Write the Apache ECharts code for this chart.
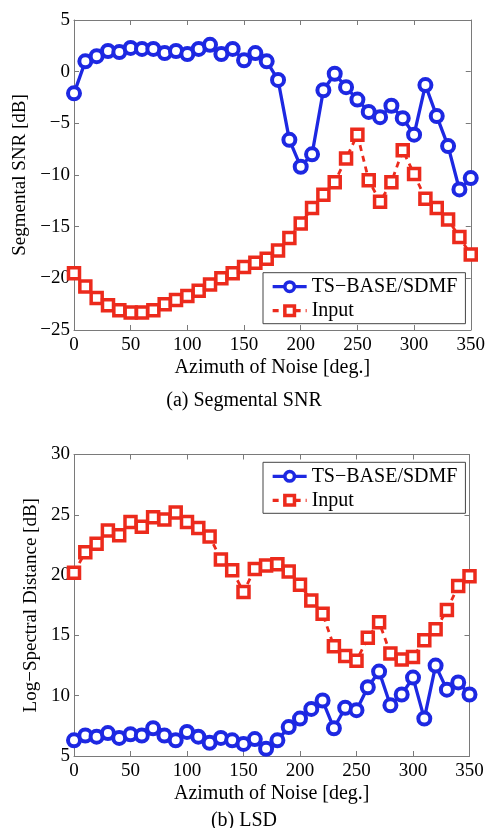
<!DOCTYPE html>
<html><head><meta charset="utf-8">
<script src="https://cdn.jsdelivr.net/npm/echarts@6/dist/echarts.min.js"></script>
<style>html,body{margin:0;padding:0;background:#fff}#c{width:488px;height:828px}</style>
</head><body><div id="c"></div>
<script>
const azimuth = [0,10,20,30,40,50,60,70,80,90,100,110,120,130,140,150,160,170,180,190,200,210,220,230,240,250,260,270,280,290,300,310,320,330,340,350];
const snrProposed = [-2.1,1.0,1.5,2.0,1.9,2.3,2.2,2.2,1.8,2.0,1.7,2.2,2.6,1.7,2.2,1.1,1.8,1.0,-0.8,-6.6,-9.2,-8.0,-1.8,-0.2,-1.5,-2.7,-3.9,-4.4,-3.3,-4.5,-6.1,-1.3,-4.3,-7.2,-11.4,-10.3];
const snrInput = [-19.5,-20.8,-21.9,-22.6,-23.1,-23.3,-23.3,-23.1,-22.5,-22.1,-21.7,-21.2,-20.6,-20.0,-19.5,-18.9,-18.5,-18.1,-17.3,-16.1,-14.7,-13.2,-11.9,-10.7,-8.4,-6.1,-10.5,-12.6,-10.7,-7.6,-9.9,-12.3,-13.2,-14.3,-16.0,-17.7];
const lsdProposed = [6.3,6.7,6.6,6.9,6.5,6.8,6.7,7.3,6.7,6.3,7.0,6.6,6.1,6.5,6.3,6.0,6.4,5.6,6.3,7.4,8.1,8.9,9.6,7.3,9.0,8.8,10.7,12.0,9.2,10.1,11.5,8.1,12.5,10.5,11.1,10.1];
const lsdInput = [20.2,21.9,22.6,23.7,23.3,24.4,24.0,24.8,24.6,25.2,24.4,23.9,23.2,21.3,20.4,18.6,20.5,20.8,20.9,20.3,19.2,17.9,16.8,14.1,13.3,12.9,14.8,16.1,13.5,13.0,13.2,14.6,15.5,17.1,19.1,19.9];
const xTicks = {min:0, max:350, interval:50};
const snrTicks = {min:-25, max:5, interval:5};
const lsdTicks = {min:5, max:30, interval:5};
const nameProposed = 'TS\u2212BASE/SDMF';
const nameInput = 'Input';

const FONT = 'Liberation Serif';
const BLUE = '#1d28e2';
const RED = '#ec2a1c';
const AX = '#7a7a7a';
const minus = v => String(v).replace('-', '\u2212');

function xAx(grid, pos, labels){
  return Object.assign({type:'value', gridIndex:grid, position:pos}, xTicks, {
    axisLine:{show:true, onZero:false, lineStyle:{color:AX, width:1}},
    axisTick:{show:true, inside:true, length:5, lineStyle:{color:AX}},
    splitLine:{show:false},
    axisLabel:{show:labels, color:'#000', fontFamily:FONT, fontSize:19, margin:6, formatter:minus},
    name: labels ? 'Azimuth of Noise [deg.]' : '',
    nameLocation:'middle', nameGap:28,
    nameTextStyle:{color:'#000', fontFamily:FONT, fontSize:20}
  });
}
function yAx(grid, pos, labels, ticks, name, gap){
  return Object.assign({type:'value', gridIndex:grid, position:pos}, ticks, {
    axisLine:{show:true, onZero:false, lineStyle:{color:AX, width:1}},
    axisTick:{show:true, inside:true, length:5, lineStyle:{color:AX}},
    splitLine:{show:false},
    axisLabel:{show:labels, color:'#000', fontFamily:FONT, fontSize:19, margin:4, formatter:minus},
    name: labels ? name : '',
    nameLocation:'middle', nameGap:gap, nameRotate:90,
    nameTextStyle:{color:'#000', fontFamily:FONT, fontSize:19}
  });
}
function pair(vals){ return azimuth.map((a,i)=>[a, vals[i]]); }
function blueSeries(x,y,vals){
  return {name:nameProposed, type:'line', xAxisIndex:x, yAxisIndex:y, data:pair(vals),
    symbol:'circle', symbolSize:12, z:3,
    lineStyle:{color:BLUE, width:3.3},
    itemStyle:{color:'#fff', borderColor:BLUE, borderWidth:4},
    emphasis:{disabled:true}, animation:false};
}
function redSeries(x,y,vals){
  return {name:nameInput, type:'line', xAxisIndex:x, yAxisIndex:y, data:pair(vals),
    symbol:'rect', symbolSize:11, z:2,
    lineStyle:{color:RED, width:2.8, type:[6,5]},
    itemStyle:{color:'#fff', borderColor:RED, borderWidth:3.5},
    emphasis:{disabled:true}, animation:false};
}
function legend(left, top){
  return {left:left, top:top, orient:'vertical', data:[nameProposed, nameInput],
    backgroundColor:'#fff', borderColor:'#444', borderWidth:1, borderRadius:0,
    padding:[4,8,3,8], itemGap:4, itemWidth:34, itemHeight:12, selectedMode:false,
    itemStyle:{borderWidth:3.5}, lineStyle:{width:3.3},
    textStyle:{color:'#000', fontFamily:FONT, fontSize:20}};
}

const chart = echarts.init(document.getElementById('c'), null, {renderer:'canvas'});
chart.setOption({
  animation:false,
  backgroundColor:'#fff',
  title:[
    {text:'(a) Segmental SNR', left:'center', top:386, textStyle:{fontFamily:FONT, fontSize:20, fontWeight:'normal', color:'#000'}},
    {text:'(b) LSD', left:'center', top:806, textStyle:{fontFamily:FONT, fontSize:20, fontWeight:'normal', color:'#000'}}
  ],
  grid:[
    {left:74, top:20, width:398, height:310},
    {left:74, top:454.5, width:395.5, height:301.5}
  ],
  xAxis:[xAx(0,'bottom',true), xAx(0,'top',false), xAx(1,'bottom',true), xAx(1,'top',false)],
  yAxis:[
    yAx(0,'left',true,snrTicks,'Segmental SNR [dB]',41), yAx(0,'right',false,snrTicks,'',0),
    yAx(1,'left',true,lsdTicks,'Log\u2212Spectral Distance [dB]',25), yAx(1,'right',false,lsdTicks,'',0)
  ],
  legend:[legend(263,272.7), legend(263,462.3)],
  series:[
    redSeries(0,0,snrInput), blueSeries(0,0,snrProposed),
    redSeries(2,2,lsdInput), blueSeries(2,2,lsdProposed)
  ]
});
</script></body></html>
